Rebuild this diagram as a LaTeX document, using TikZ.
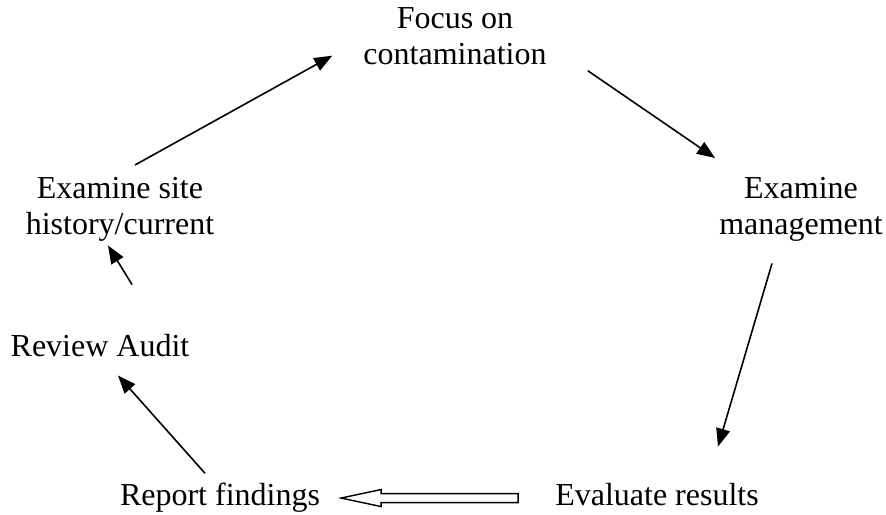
\documentclass[tikz,border=0pt]{standalone}
\usepackage{fontspec}
\setmainfont{Liberation Serif}
\usetikzlibrary{arrows.meta}
\usetikzlibrary{calc}

\begin{document}
\begin{tikzpicture}[
        x=1pt, y=1pt,
        every node/.style={font=\fontsize{32pt}{36pt}\selectfont},
        stage/.style={inner sep=0pt, align=center},
        arr/.style={line width=1.6pt, -{Triangle[length=18pt,width=14pt]}},
        hollow/.style={line width=1.4pt, fill=white, line join=miter}
      ]
      \useasboundingbox (0,0) rectangle (886,514);
      \node(focus)[stage, anchor=north] at (455,507) {Focus on\\contamination};
      \node(mgmt)[stage, anchor=north] at (801,337) {Examine\\management};
      \node(site)[stage, anchor=north] at (120,337) {Examine site\\history/current};
      \node(review)[stage, anchor=base] at (100,157) {Review Audit};
      \node(report)[stage, anchor=base] at (220,9) {Report findings};
      \node(evaluate)[stage, anchor=base] at (657,9) {Evaluate results};

      \draw[arr] ([shift={(15,12)}]site.north) -- ([shift={(-31,9)}]focus.south west);
      \draw[arr] ([shift={(41,-6)}]focus.south east) -- ([shift={(-4,19)}]mgmt.north west);
      \draw[arr] ([shift={(-29,-22)}]mgmt.south) -- ([shift={(61,36)}]evaluate.north);
      \draw[hollow] ([shift={(-37,-4)}]evaluate.west) ++(0,4.5) -- ++(-137,0) -- ++(0,4)
            -- ++(-40,-8.5) -- ++(40,-8.5) -- ++(0,4) -- ++(137,0) -- cycle;
      \draw[arr] ([shift={(-15,9)}]report.north) -- ([shift={(18,-18)}]review.south);
      \draw[arr] ([shift={(32,50)}]review.north) -- ([shift={(-12,-4)}]site.south);

    \end{tikzpicture}
\end{document}
